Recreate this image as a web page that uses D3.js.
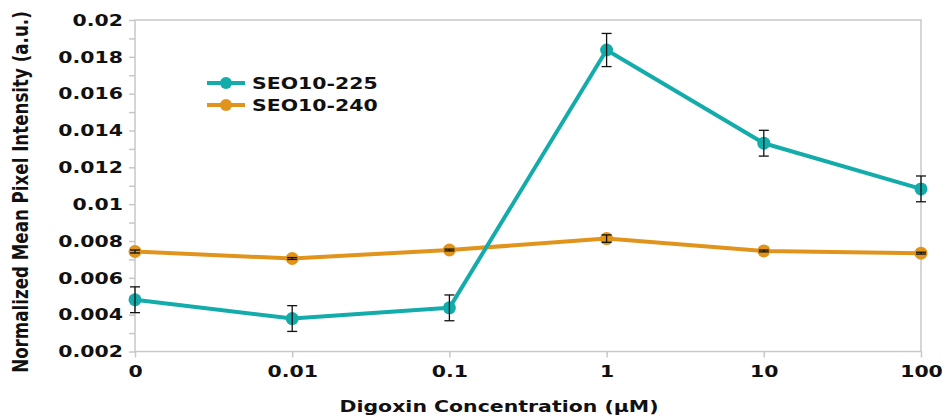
<!DOCTYPE html>
<html>
<head>
<meta charset="utf-8">
<script src="https://cdn.jsdelivr.net/npm/d3@7"></script>
<style>
  body { margin: 0; background: #fff; }
  svg { display: block; font-family: "DejaVu Sans", sans-serif; font-weight: bold; }
</style>
</head>
<body>
<svg id="chart" width="943" height="416"></svg>
<script>
// Digoxin concentrations (µM) and measured intensities
const concentrations = ["0", "0.01", "0.1", "1", "10", "100"];
const seriesNames = ["SEO10-225", "SEO10-240"];
const seo225Mean = [0.00481, 0.00379, 0.00437, 0.01837, 0.01331, 0.01083];
const seo225Err  = [0.00070, 0.00070, 0.00070, 0.00090, 0.00070, 0.00070];
const seo240Mean = [0.00743, 0.00705, 0.00751, 0.00813, 0.00746, 0.00734];
const seo240Err  = [0.00008, 0.00005, 0.00005, 0.00020, 0.00005, 0.00005];
const yTicks = [0.002, 0.004, 0.006, 0.008, 0.01, 0.012, 0.014, 0.016, 0.018, 0.02];
const yMinorTicks = [0.003, 0.005, 0.007, 0.009, 0.011, 0.013, 0.015, 0.017, 0.019];
const colors = ["#14abab", "#e0941c"];

const svg = d3.select("#chart");
const plot = { left: 135, right: 921, top: 20, bottom: 351.5 };
const stretch = 1.24;      // wide lettering
const fontSize = "16.5px";
const ink = "#111";
const frame = "#c8c8c8";

const x = d3.scalePoint().domain(concentrations).range([plot.left, plot.right]);
const y = d3.scaleLinear().domain([0.002, 0.02]).range([plot.bottom, plot.top]);

// plot frame
svg.append("rect")
  .attr("x", plot.left).attr("y", plot.top)
  .attr("width", plot.right - plot.left).attr("height", plot.bottom - plot.top)
  .attr("fill", "none").attr("stroke", frame).attr("stroke-width", 1.5);

// y axis
const yAxis = svg.append("g").attr("transform", `translate(${plot.left},0)`)
  .call(d3.axisLeft(y).tickValues(yTicks).tickSize(6)
    .tickFormat(d => String(+d.toFixed(3))));
yAxis.select(".domain").remove();
yAxis.selectAll(".tick line").attr("stroke", frame).attr("stroke-width", 1.5);
yAxis.selectAll(".tick text")
  .attr("x", -12 / stretch)
  .attr("transform", `scale(${stretch},1)`)
  .attr("fill", ink).style("font-size", fontSize).style("font-weight", "bold")
  .attr("font-family", "DejaVu Sans");

const yMinor = svg.append("g").attr("transform", `translate(${plot.left},0)`)
  .call(d3.axisLeft(y).tickValues(yMinorTicks).tickSize(6).tickFormat(""));
yMinor.select(".domain").remove();
yMinor.selectAll(".tick line").attr("stroke", frame).attr("stroke-width", 1.5);

// x axis
const xAxis = svg.append("g").attr("transform", `translate(0,${plot.bottom})`)
  .call(d3.axisBottom(x).tickSize(6).tickPadding(8));
xAxis.select(".domain").remove();
xAxis.selectAll(".tick line").attr("stroke", frame).attr("stroke-width", 1.5);
xAxis.selectAll(".tick text")
  .attr("transform", `scale(${stretch},1)`)
  .attr("fill", ink).style("font-size", fontSize).style("font-weight", "bold")
  .attr("font-family", "DejaVu Sans");

// axis titles
svg.append("g").attr("transform", `translate(499,412) scale(${stretch},1)`)
  .append("text")
  .attr("text-anchor", "middle").attr("fill", ink)
  .style("font-size", fontSize)
  .text("Digoxin Concentration (µM)");

svg.append("g").attr("transform", `translate(28,192) scale(${stretch},1) rotate(-90)`)
  .append("text")
  .attr("text-anchor", "middle").attr("fill", ink)
  .style("font-size", "16.7px")
  .text("Normalized Mean Pixel Intensity (a.u.)");

// series
const series = [
  { name: seriesNames[0], mean: seo225Mean, err: seo225Err, color: colors[0] },
  { name: seriesNames[1], mean: seo240Mean, err: seo240Err, color: colors[1] }
];

const line = d3.line().x((d, i) => x(concentrations[i])).y(d => y(d));

// draw orange beneath teal
[series[1], series[0]].forEach(s => {
  const g = svg.append("g");
  g.append("path").datum(s.mean)
    .attr("d", line).attr("fill", "none")
    .attr("stroke", s.color).attr("stroke-width", 4).attr("stroke-linejoin", "round");
  g.selectAll("circle").data(s.mean).join("circle")
    .attr("cx", (d, i) => x(concentrations[i])).attr("cy", d => y(d))
    .attr("r", 6.5).attr("fill", s.color);
  // error bars
  const eb = g.selectAll("g.err").data(s.mean).join("g").attr("class", "err");
  eb.append("line")
    .attr("x1", (d, i) => x(concentrations[i])).attr("x2", (d, i) => x(concentrations[i]))
    .attr("y1", (d, i) => y(d + s.err[i])).attr("y2", (d, i) => y(d - s.err[i]))
    .attr("stroke", ink).attr("stroke-width", 1.3);
  [1, -1].forEach(sign => {
    eb.append("line")
      .attr("x1", (d, i) => x(concentrations[i]) - 5).attr("x2", (d, i) => x(concentrations[i]) + 5)
      .attr("y1", (d, i) => y(d + sign * s.err[i])).attr("y2", (d, i) => y(d + sign * s.err[i]))
      .attr("stroke", ink).attr("stroke-width", 1.3);
  });
});

// legend
const legend = svg.append("g");
series.forEach((s, i) => {
  const ly = 83 + i * 22;
  legend.append("line").attr("x1", 207).attr("x2", 245).attr("y1", ly).attr("y2", ly)
    .attr("stroke", s.color).attr("stroke-width", 4);
  legend.append("circle").attr("cx", 226).attr("cy", ly).attr("r", 6).attr("fill", s.color);
  legend.append("g").attr("transform", `translate(252,${ly + 6}) scale(${stretch},1)`)
    .append("text")
    .attr("fill", ink).style("font-size", fontSize).text(s.name);
});
</script>
</body>
</html>
